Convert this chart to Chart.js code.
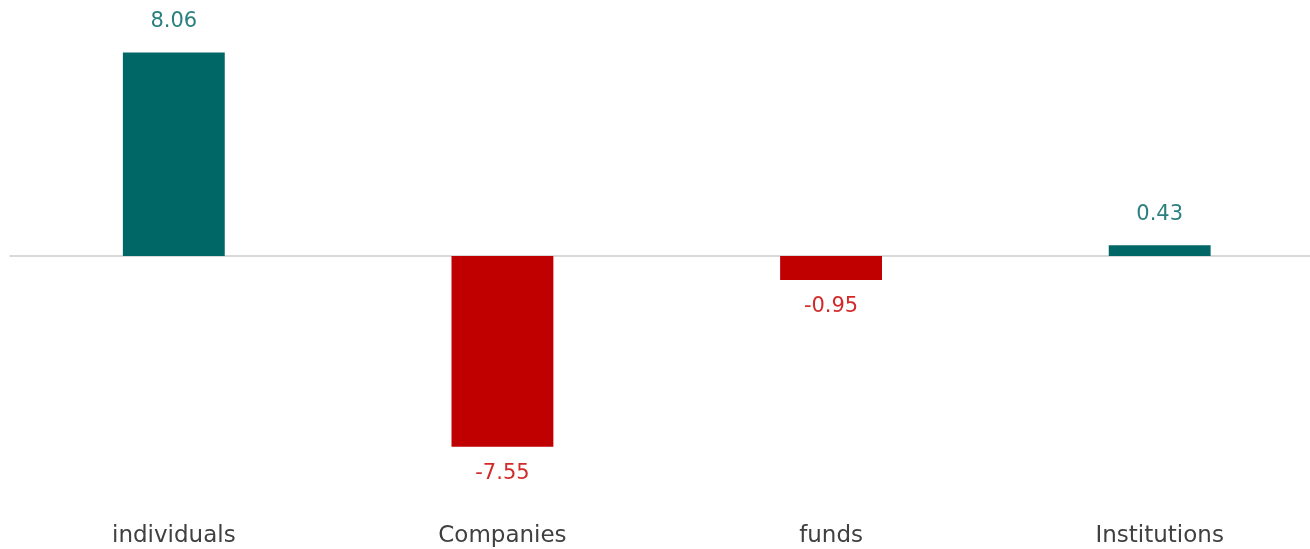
<!DOCTYPE html>
<html>
<head>
<meta charset="utf-8">
<script src="https://cdn.jsdelivr.net/npm/chart.js@4"></script>
<style>
  html, body { margin: 0; padding: 0; background: #ffffff; overflow: hidden; }
  #wrap { width: 1324px; height: 549px; }
</style>
</head>
<body>
<div id="wrap"><canvas id="flowChart" width="1324" height="549"></canvas></div>
<script>
// net flows by investor type
const categories = ["individuals", "Companies", "funds", "Institutions"];
const netValues = [8.06, -7.55, -0.95, 0.43];

const teal = "#006666";
const red = "#c00000";
const tealText = "#2a7f7f";
const redText = "#d22a2a";

const barColors = netValues.map(v => (v >= 0 ? teal : red));

// light grey zero line under the bars
const zeroLine = {
  id: "zeroLine",
  beforeDatasetsDraw(chart) {
    const ctx = chart.ctx;
    const y = chart.scales.y.getPixelForValue(0);
    ctx.save();
    ctx.strokeStyle = "#d9d9d9";
    ctx.lineWidth = 2;
    ctx.beginPath();
    ctx.moveTo(chart.chartArea.left, y);
    ctx.lineTo(chart.chartArea.right, y);
    ctx.stroke();
    ctx.restore();
  },
};

// value labels above / below each bar
const valueLabels = {
  id: "valueLabels",
  afterDatasetsDraw(chart) {
    const ctx = chart.ctx;
    const meta = chart.getDatasetMeta(0);
    ctx.save();
    ctx.font = "21px 'DejaVu Sans'";
    ctx.textAlign = "center";
    meta.data.forEach((bar, i) => {
      const v = netValues[i];
      if (v >= 0) {
        ctx.fillStyle = tealText;
        ctx.textBaseline = "bottom";
        ctx.fillText(v.toFixed(2), bar.x, bar.y - 20);
      } else {
        ctx.fillStyle = redText;
        ctx.textBaseline = "top";
        ctx.fillText(v.toFixed(2), bar.x, bar.y + 16);
      }
    });
    ctx.restore();
  },
};

const flowChart = new Chart(document.getElementById("flowChart"), {
  type: "bar",
  data: {
    labels: categories,
    datasets: [
      {
        data: netValues,
        backgroundColor: barColors,
        borderWidth: 0,
        categoryPercentage: 1,
        barPercentage: 0.31,
      },
    ],
  },
  options: {
    responsive: false,
    animation: false,
    layout: { padding: { left: 9.5, right: 0, top: 16, bottom: 0 } },
    plugins: {
      legend: { display: false },
      tooltip: { enabled: false },
    },
    scales: {
      x: {
        grid: { display: false, drawTicks: false },
        border: { display: false },
        ticks: {
          color: "#404040",
          font: { family: "'DejaVu Sans'", size: 23 },
          padding: 26,
        },
        afterFit(scale) {
          scale.height = 53;
        },
      },
      y: {
        display: false,
        min: -9.5,
        max: 9.5,
      },
    },
  },
  plugins: [zeroLine, valueLabels],
});
</script>
</body>
</html>
